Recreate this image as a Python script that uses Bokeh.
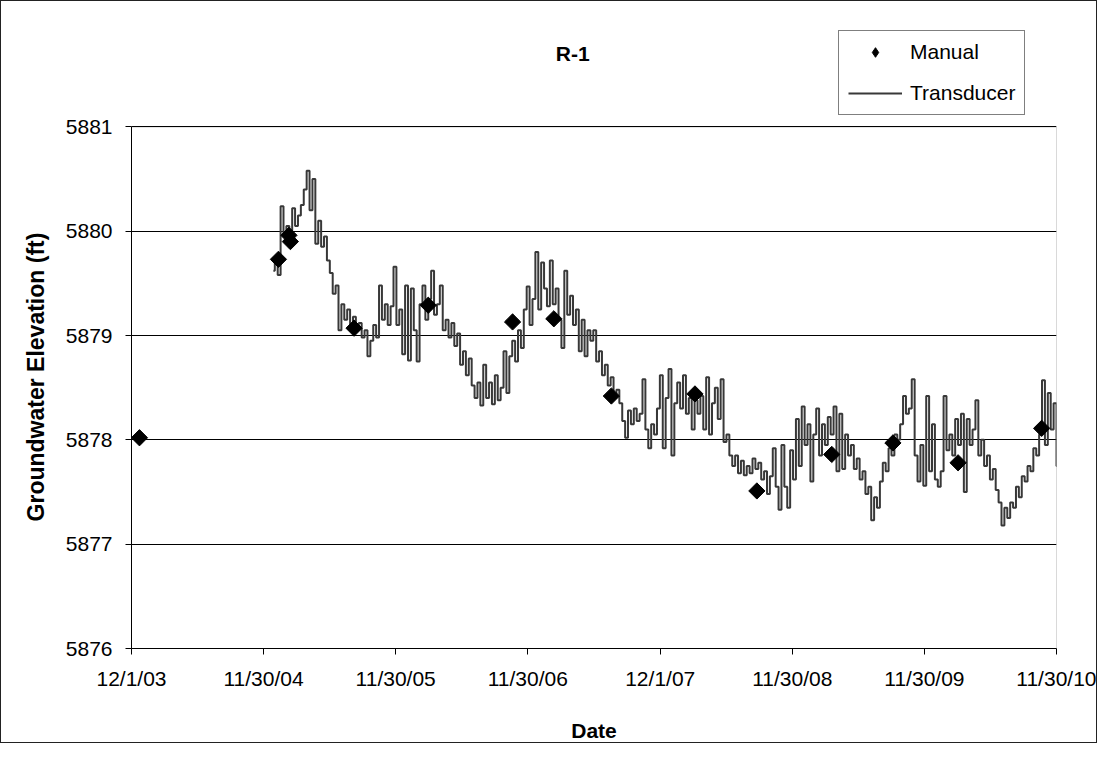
import datetime as dt
from bokeh.plotting import figure
from bokeh.models import (Range1d, FixedTicker, DatetimeTickFormatter, Legend, LegendItem,
                          ColumnDataSource, BoxAnnotation, Label)
from bokeh.embed import file_html
from bokeh.resources import INLINE

# ---------------- data ----------------
manual_dates = ["2003-12-23", "2005-01-10", "2005-02-08", "2005-02-12", "2005-08-07",
                "2006-02-28", "2006-10-19", "2007-02-10", "2007-07-19", "2008-03-06",
                "2008-08-24", "2009-03-19", "2009-09-04", "2010-03-03", "2010-10-20"]
manual_values = [5878.02, 5879.73, 5879.96, 5879.90, 5879.07,
                 5879.29, 5879.13, 5879.16, 5878.42, 5878.44,
                 5877.51, 5877.86, 5877.97, 5877.78, 5878.11]

transducer_start = "2004-12-27"
transducer_step_days = 8
transducer_values = [
    5879.62, 5879.75, 5879.58, 5880.24, 5879.95, 5880.05, 5879.92, 5880.22, 5880.05, 5880.15,
    5880.25, 5880.40, 5880.58, 5880.20, 5880.50, 5879.88, 5880.10, 5879.85, 5879.95, 5879.72,
    5879.60, 5879.40, 5879.48, 5879.05, 5879.30, 5879.15, 5879.25, 5879.10, 5879.18, 5879.05,
    5879.12, 5878.98, 5879.05, 5878.80, 5878.95, 5879.10, 5878.98, 5879.48, 5879.15, 5879.30,
    5879.10, 5879.28, 5879.66, 5879.10, 5879.25, 5878.82, 5879.48, 5878.76, 5879.45, 5879.05,
    5878.75, 5879.30, 5879.48, 5879.15, 5879.35, 5879.62, 5879.20, 5879.30, 5879.48, 5879.05,
    5879.15, 5878.98, 5879.12, 5878.90, 5879.02, 5878.72, 5878.85, 5878.62, 5878.78, 5878.52,
    5878.40, 5878.55, 5878.33, 5878.72, 5878.40, 5878.55, 5878.34, 5878.62, 5878.38, 5878.50,
    5878.85, 5878.45, 5878.80, 5878.95, 5878.75, 5879.05, 5878.88, 5879.25, 5879.47, 5879.10,
    5879.35, 5879.80, 5879.25, 5879.70, 5879.45, 5879.28, 5879.72, 5879.30, 5879.45, 5879.15,
    5878.88, 5879.62, 5879.20, 5879.38, 5879.10, 5879.25, 5878.85, 5879.15, 5878.80, 5879.05,
    5878.95, 5879.05, 5878.75, 5878.85, 5878.62, 5878.72, 5878.52, 5878.60, 5878.40, 5878.48,
    5878.35, 5878.18, 5878.02, 5878.28, 5878.15, 5878.30, 5878.18, 5878.25, 5878.58, 5878.10,
    5877.92, 5878.15, 5878.05, 5878.30, 5878.62, 5877.92, 5878.40, 5878.68, 5877.85, 5878.35,
    5878.55, 5878.30, 5878.62, 5878.25, 5878.40, 5878.10, 5878.38, 5878.25, 5878.42, 5878.10,
    5878.60, 5878.05, 5878.35, 5878.50, 5878.20, 5878.58, 5877.98, 5878.05, 5877.85, 5877.75,
    5877.85, 5877.68, 5877.80, 5877.66, 5877.75, 5877.68, 5877.82, 5877.72, 5877.78, 5877.62,
    5877.70, 5877.48, 5877.65, 5877.92, 5877.55, 5877.33, 5877.95, 5877.55, 5877.35, 5877.90,
    5877.62, 5878.20, 5877.75, 5878.32, 5877.95, 5878.15, 5877.60, 5878.05, 5878.30, 5877.85,
    5878.15, 5877.95, 5878.22, 5878.05, 5878.32, 5877.70, 5878.25, 5877.72, 5878.05, 5877.85,
    5877.95, 5877.72, 5877.82, 5877.62, 5877.70, 5877.48, 5877.55, 5877.23, 5877.45, 5877.35,
    5877.60, 5877.78, 5877.70, 5877.92, 5877.85, 5878.05, 5878.00, 5878.15, 5878.42, 5878.25,
    5878.30, 5878.58, 5877.85, 5877.60, 5877.95, 5877.56, 5878.42, 5877.70, 5878.15, 5877.62,
    5877.55, 5877.70, 5878.42, 5877.90, 5878.05, 5877.85, 5878.20, 5877.95, 5878.25, 5877.50,
    5878.20, 5877.95, 5878.10, 5878.38, 5877.85, 5878.00, 5877.75, 5877.85, 5877.62, 5877.72,
    5877.52, 5877.40, 5877.18, 5877.35, 5877.25, 5877.40, 5877.35, 5877.55, 5877.45, 5877.65,
    5877.60, 5877.75, 5877.70, 5877.92, 5877.85, 5878.05, 5878.57, 5877.95, 5878.45, 5878.10,
    5878.35, 5877.75,
]

x_tick_dates = ["2003-12-01", "2004-11-30", "2005-11-30", "2006-11-30",
                "2007-12-01", "2008-11-30", "2009-11-30", "2010-11-30"]
y_ticks = [5876, 5877, 5878, 5879, 5880, 5881]

# ---------------- build ----------------
def d(s):
    return dt.datetime.strptime(s, "%Y-%m-%d")

def ms(x):
    return (x - dt.datetime(1970, 1, 1)).total_seconds() * 1000.0

t0 = d(transducer_start)
t_dates = [t0 + dt.timedelta(days=transducer_step_days * i) for i in range(len(transducer_values))]
m_dates = [d(s) for s in manual_dates]

x_start, x_end = d(x_tick_dates[0]), d(x_tick_dates[-1])
y_lo, y_hi = y_ticks[0], y_ticks[-1]
y_top = y_hi + 1          # headroom above the plot box for title and legend

FONT = "Liberation Sans"

p = figure(width=1097, height=743, x_axis_type="datetime",
           output_backend="svg", toolbar_location=None,
           x_range=Range1d(x_start, x_end),
           y_range=Range1d(y_lo, y_top),
           min_border_left=130, min_border_right=42, min_border_top=21, min_border_bottom=93)
p.styles = {"border": "1px solid #222"}

p.background_fill_color = "white"
p.border_fill_color = "white"
p.outline_line_color = None

# plot box (top gridline + right edge)
p.add_layout(BoxAnnotation(left=ms(x_start), right=ms(x_end), bottom=y_lo, top=y_hi,
                           fill_color=None, line_color="black", line_width=1))

t_src = ColumnDataSource(dict(x=t_dates, y=transducer_values))
m_src = ColumnDataSource(dict(x=m_dates, y=manual_values))

r_line = p.step("x", "y", source=t_src, mode="center", line_color="#383838", line_width=2.0)
r_man = p.scatter("x", "y", source=m_src, marker="square", angle=0.785398, size=11.5,
                  fill_color="black", line_color="black")
# key-only glyph (NaN position, never drawn in the plot): diamond symbol for the legend
r_man_key = p.scatter(x=[float("nan")], y=[float("nan")], marker="diamond", size=17,
                      fill_color="black", line_color="black")

# axes
p.xaxis.ticker = FixedTicker(ticks=[ms(d(s)) for s in x_tick_dates])
fmt = "%-m/%-d/%y"
p.xaxis.formatter = DatetimeTickFormatter(milliseconds=fmt, seconds=fmt, minsec=fmt, minutes=fmt,
                                          hourmin=fmt, hours=fmt, days=fmt, months=fmt, years=fmt)
p.yaxis.ticker = FixedTicker(ticks=y_ticks)
p.yaxis.bounds = (y_lo, y_hi)

for ax in (p.xaxis[0], p.yaxis[0]):
    ax.axis_line_color = "black"
    ax.major_tick_line_color = "black"
    ax.major_tick_out = 6
    ax.major_tick_in = 0
    ax.minor_tick_line_color = None
    ax.major_label_text_font = FONT
    ax.major_label_text_font_size = "21px"
    ax.major_label_text_color = "black"
    ax.axis_label_text_font = FONT
    ax.axis_label_text_font_size = "21px"
    ax.axis_label_text_font_style = "bold"
    ax.axis_label_text_color = "black"

p.xaxis.axis_label = "Date"
p.xaxis.major_label_standoff = 12
p.xaxis.axis_label_standoff = 26
# trailing no-break spaces keep the label centred on the 5876-5881 box, not the headroom
p.yaxis.axis_label = "Groundwater  Elevation (ft)" + "\u00a0" * 12
p.yaxis.axis_label_text_font_size = "23px"
p.yaxis.major_label_standoff = 13
p.yaxis.axis_label_standoff = 14

p.xgrid.grid_line_color = None
p.ygrid.ticker = FixedTicker(ticks=y_ticks)
p.ygrid.grid_line_color = "black"
p.ygrid.grid_line_width = 1

# title inside the headroom
title_x = ms(x_start) + 0.477 * (ms(x_end) - ms(x_start))
p.add_layout(Label(x=title_x, y=y_hi + 0.70, text="R-1", text_align="center",
                   text_baseline="middle", text_font=FONT, text_font_size="21px",
                   text_font_style="bold", text_color="black"))

legend = Legend(items=[LegendItem(label="Manual", renderers=[r_man_key]),
                       LegendItem(label="Transducer", renderers=[r_line])],
                location=(707, 533), orientation="vertical",
                border_line_color="black", border_line_width=1,
                background_fill_color="white", background_fill_alpha=1.0,
                label_text_font=FONT, label_text_font_size="21px", label_text_color="black",
                glyph_width=54, glyph_height=24, label_height=24, spacing=17, padding=9,
                label_standoff=8, margin=0)
p.add_layout(legend, "center")

open("out.html", "w").write(file_html(p, INLINE))
